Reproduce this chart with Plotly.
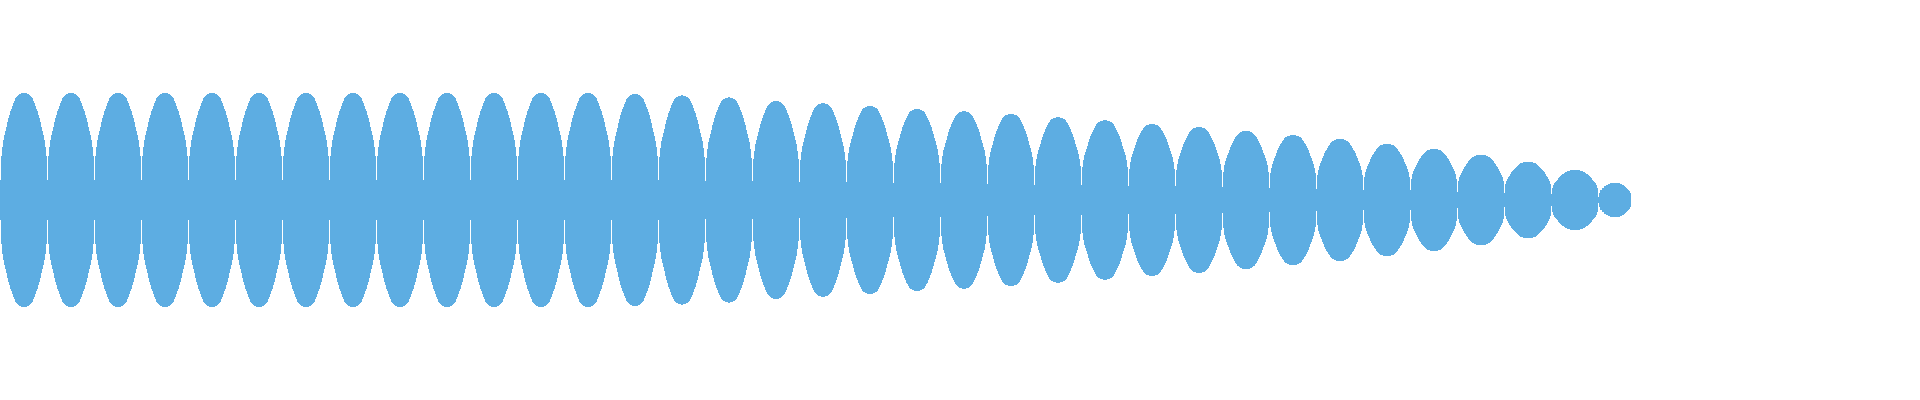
import numpy as np
import plotly.graph_objects as go

# peak amplitude of each lobe, left to right (first lobe = 1.0)
lobe_peaks = [
    1.000, 1.000, 1.000, 1.000, 1.000, 1.000, 1.000, 1.000, 1.000, 1.000,
    1.000, 1.000, 1.000, 0.991, 0.977, 0.958, 0.925, 0.904, 0.879, 0.850,
    0.829, 0.804, 0.773, 0.745, 0.710, 0.682, 0.645, 0.607, 0.570, 0.523,
    0.477, 0.421, 0.355, 0.280, 0.159,
]
# samples per lobe (the last one is cut short)
lobe_widths = [47] * 34 + [33]

# relative height from a neck up to the top of a lobe
half_profile = [
    0.187, 0.411, 0.500, 0.561, 0.603, 0.645, 0.682, 0.727, 0.764, 0.798,
    0.828, 0.855, 0.881, 0.907, 0.927, 0.949, 0.963, 0.974, 0.983, 0.989,
    0.993, 0.996, 0.999, 1.000,
]

profile = np.array(half_profile + half_profile[-1:0:-1])

env = []
for peak, w in zip(lobe_peaks, lobe_widths):
    idx = np.round(np.arange(w) * (len(profile) - 1) / (len(profile) - 1 if w == len(profile) else w - 1)).astype(int)
    env.extend(peak * profile[idx])
env = np.array(env)
samples = np.arange(len(env))

fig = go.Figure(go.Bar(
    x=samples, y=2 * env, base=-env, width=1,
    marker=dict(color="#5dade2", line=dict(width=0)),
    hoverinfo="skip",
))
fig.update_layout(
    width=1920, height=400,
    margin=dict(l=0, r=0, t=0, b=0),
    paper_bgcolor="white", plot_bgcolor="white",
    bargap=0, showlegend=False,
    xaxis=dict(visible=False, range=[-0.5, 1919.5]),
    yaxis=dict(visible=False, range=[-1.869, 1.869]),
)
fig.write_html(
    "out.html",
    config={"displayModeBar": False},
    post_script="document.body.style.margin='0';document.body.style.overflow='hidden';",
)
